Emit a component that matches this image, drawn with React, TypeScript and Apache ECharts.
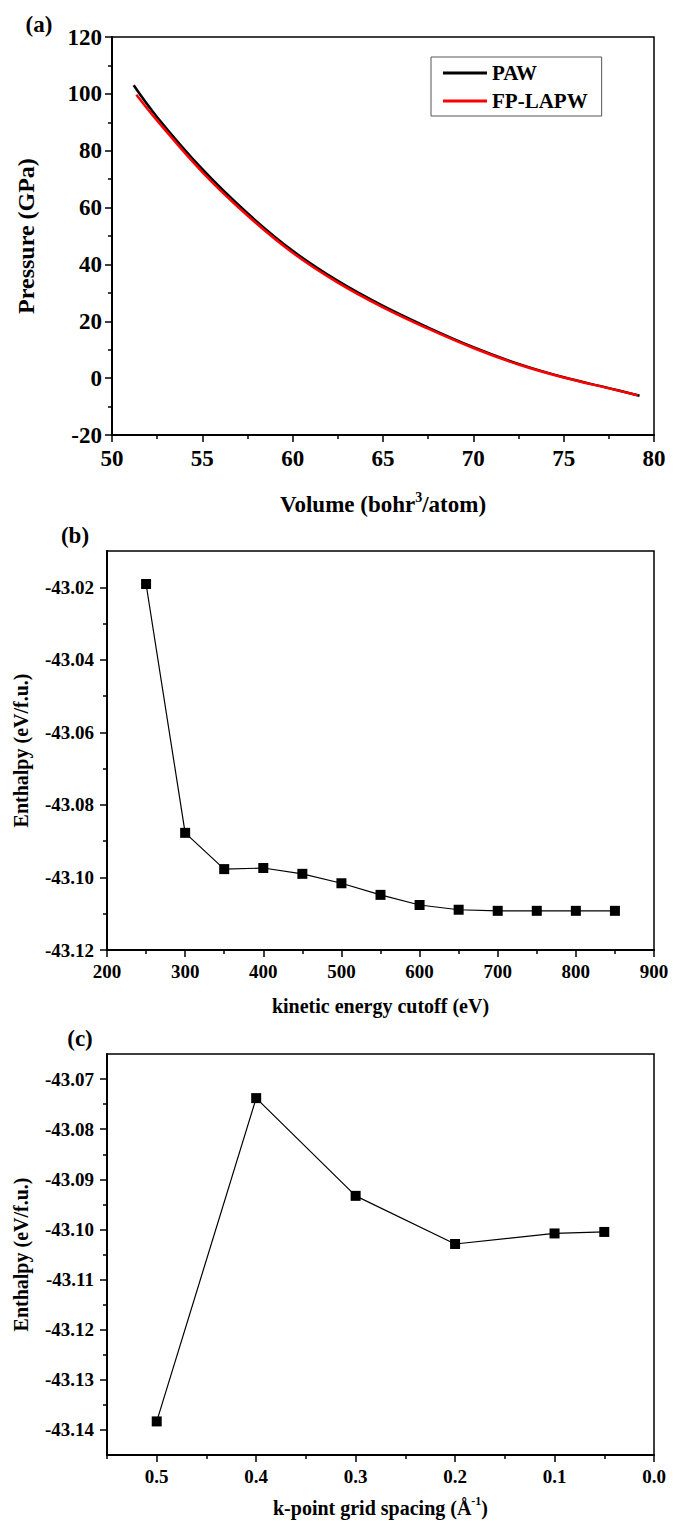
import React, { useEffect, useRef } from 'react';
import * as echarts from 'echarts';

const F = '"Liberation Serif", "Times New Roman", serif';

// Panel (a): pressure vs volume
const volumePAW = [51.2, 52.5, 55, 57.5, 60, 62.5, 65, 67.5, 70, 72.5, 75, 77.5, 79.2];
const pressurePAW = [103, 91.8, 73.5, 58.0, 44.8, 34.2, 25.4, 17.8, 10.9, 5.0, 0.3, -3.5, -6.2];
const volumeLAPW = [51.35, 52.5, 55, 57.5, 60, 62.5, 65, 67.5, 70, 72.5, 75, 77.5, 79.1];
const pressureLAPW = [99.7, 90.6, 72.5, 57.2, 44.1, 33.6, 24.9, 17.4, 10.6, 4.8, 0.2, -3.6, -6.0];

// Panel (b): enthalpy vs kinetic energy cutoff
const cutoff = [250, 300, 350, 400, 450, 500, 550, 600, 650, 700, 750, 800, 850];
const enthalpyCutoff = [-43.0191, -43.0877, -43.0977, -43.0974, -43.099, -43.1016, -43.1048, -43.1076, -43.1089, -43.1092, -43.1092, -43.1092, -43.1092];

// Panel (c): enthalpy vs k-point grid spacing
const kSpacing = [0.5, 0.4, 0.3, 0.2, 0.1, 0.05];
const enthalpyK = [-43.1383, -43.0738, -43.0933, -43.1029, -43.1008, -43.1005];

// Tick labels
const bMajor = [-43.12, -43.1, -43.08, -43.06, -43.04, -43.02];
const bMinor = [-43.11, -43.09, -43.07, -43.05, -43.03];
const cMajorY = [-43.14, -43.13, -43.12, -43.11, -43.1, -43.09, -43.08, -43.07];
const cMinorY = [-43.135, -43.125, -43.115, -43.105, -43.095, -43.085, -43.075];
const cMajorX = [0, 0.1, 0.2, 0.3, 0.4, 0.5];
const cMinorX = [0.05, 0.15, 0.25, 0.35, 0.45, 0.55];

const zip = (xs: number[], ys: number[]) => xs.map((x, i) => [x, ys[i]]);

const lineW = { color: '#000', width: 2 };
const tickW = { color: '#000', width: 1.5 };

function labelStyle(size: number, margin: number, extra: any = {}) {
  return { fontFamily: F, fontWeight: 'bold', fontSize: size, color: '#000', margin, ...extra };
}
function nameStyle(size: number) {
  return {
    fontFamily: F,
    fontWeight: 'bold',
    fontSize: size,
    color: '#000',
    rich: {
      sup: { fontFamily: F, fontWeight: 'bold', fontSize: Math.round(size * 0.6), color: '#000', padding: [0, 0, 14, 0] },
    },
  };
}

export default function App() {
  const ref = useRef<HTMLDivElement>(null);
  useEffect(() => {
    if (!ref.current) return;
    const chart = echarts.init(ref.current, undefined, { renderer: 'svg' });
    const option: any = {
      animation: false,
      backgroundColor: '#fff',
      grid: [
        { left: 112, right: 27, top: 37, height: 398, show: true, borderColor: '#000', borderWidth: 1.5 },
        { left: 107, right: 27, top: 551, height: 399, show: true, borderColor: '#000', borderWidth: 1.5 },
        { left: 107, right: 27, top: 1054, height: 401, show: true, borderColor: '#000', borderWidth: 1.5 },
      ],
      legend: {
        data: [
          { name: 'PAW', icon: 'rect' },
          { name: 'FP-LAPW', icon: 'rect' },
        ],
        orient: 'vertical',
        left: 431,
        top: 57,
        itemWidth: 44,
        itemHeight: 3,
        itemGap: 4,
        padding: [4, 14, 3, 12],
        borderColor: '#555',
        borderWidth: 1,
        selectedMode: false,
        textStyle: { fontFamily: F, fontWeight: 'bold', fontSize: 21, color: '#000', lineHeight: 24 },
      },
      xAxis: [
        {
          gridIndex: 0, type: 'value', min: 50, max: 80, interval: 5, position: 'bottom',
          axisLine: { onZero: false, lineStyle: lineW },
          axisTick: { length: 7, lineStyle: tickW },
          minorTick: { show: true, splitNumber: 2, length: 4, lineStyle: tickW },
          splitLine: { show: false }, minorSplitLine: { show: false },
          axisLabel: labelStyle(23, 12),
          name: 'Volume (bohr{sup|3}/atom)', nameLocation: 'middle', nameGap: 55, nameTextStyle: nameStyle(23),
        },
        {
          gridIndex: 1, type: 'value', min: 200, max: 900, interval: 100, position: 'bottom',
          axisLine: { onZero: false, lineStyle: lineW },
          axisTick: { length: 7, lineStyle: tickW },
          minorTick: { show: true, splitNumber: 2, length: 4, lineStyle: tickW },
          splitLine: { show: false }, minorSplitLine: { show: false },
          axisLabel: labelStyle(19, 12),
          name: 'kinetic energy cutoff (eV)', nameLocation: 'middle', nameGap: 46, nameTextStyle: nameStyle(20),
        },
        {
          gridIndex: 2, type: 'value', min: 0, max: 0.55, inverse: true, position: 'bottom',
          axisLine: { onZero: false, lineStyle: lineW },
          axisTick: { length: 7, lineStyle: tickW, customValues: cMajorX },
          splitLine: { show: false },
          axisLabel: labelStyle(19, 12, { customValues: cMajorX, formatter: (v: number) => v.toFixed(1) }),
          name: 'k-point grid spacing (Å{sup|-1})', nameLocation: 'middle', nameGap: 40, nameTextStyle: nameStyle(20),
        },
        {
          gridIndex: 2, type: 'value', min: 0, max: 0.55, inverse: true, position: 'bottom',
          axisLine: { show: false, onZero: false },
          axisTick: { length: 4, lineStyle: tickW, customValues: cMinorX },
          splitLine: { show: false },
          axisLabel: { show: false },
        },
      ],
      yAxis: [
        {
          gridIndex: 0, type: 'value', min: -20, max: 120, interval: 20, position: 'left',
          axisLine: { onZero: false, lineStyle: lineW },
          axisTick: { length: 7, lineStyle: tickW },
          minorTick: { show: true, splitNumber: 2, length: 4, lineStyle: tickW },
          splitLine: { show: false }, minorSplitLine: { show: false },
          axisLabel: labelStyle(23, 10),
          name: 'Pressure (GPa)', nameLocation: 'middle', nameGap: 74, nameTextStyle: nameStyle(24),
        },
        {
          gridIndex: 1, type: 'value', min: -43.12, max: -43.01, position: 'left',
          axisLine: { onZero: false, lineStyle: lineW },
          axisTick: { length: 7, lineStyle: tickW, customValues: bMajor },
          splitLine: { show: false },
          axisLabel: labelStyle(19, 13, { customValues: bMajor, formatter: (v: number) => v.toFixed(2) }),
          name: 'Enthalpy (eV/f.u.)', nameLocation: 'middle', nameGap: 76, nameTextStyle: nameStyle(20),
        },
        {
          gridIndex: 2, type: 'value', min: -43.145, max: -43.065, position: 'left',
          axisLine: { onZero: false, lineStyle: lineW },
          axisTick: { length: 7, lineStyle: tickW, customValues: cMajorY },
          splitLine: { show: false },
          axisLabel: labelStyle(19, 13, { customValues: cMajorY, formatter: (v: number) => v.toFixed(2) }),
          name: 'Enthalpy (eV/f.u.)', nameLocation: 'middle', nameGap: 76, nameTextStyle: nameStyle(20),
        },
        {
          gridIndex: 1, type: 'value', min: -43.12, max: -43.01, position: 'left',
          axisLine: { show: false, onZero: false },
          axisTick: { length: 4, lineStyle: tickW, customValues: bMinor },
          splitLine: { show: false },
          axisLabel: { show: false },
        },
        {
          gridIndex: 2, type: 'value', min: -43.145, max: -43.065, position: 'left',
          axisLine: { show: false, onZero: false },
          axisTick: { length: 4, lineStyle: tickW, customValues: cMinorY },
          splitLine: { show: false },
          axisLabel: { show: false },
        },
      ],
      graphic: [
        { type: 'text', x: 39, y: 24, style: { text: '(a)', fontFamily: F, fontWeight: 'bold', fontSize: 23, fill: '#000', align: 'center', verticalAlign: 'middle' } },
        { type: 'text', x: 75, y: 535, style: { text: '(b)', fontFamily: F, fontWeight: 'bold', fontSize: 23, fill: '#000', align: 'center', verticalAlign: 'middle' } },
        { type: 'text', x: 80, y: 1038, style: { text: '(c)', fontFamily: F, fontWeight: 'bold', fontSize: 23, fill: '#000', align: 'center', verticalAlign: 'middle' } },
      ],
      series: [
        {
          name: 'PAW', type: 'line', xAxisIndex: 0, yAxisIndex: 0, data: zip(volumePAW, pressurePAW),
          smooth: 0.4, showSymbol: false, lineStyle: { color: '#000', width: 2.5 }, itemStyle: { color: '#000' },
        },
        {
          name: 'FP-LAPW', type: 'line', xAxisIndex: 0, yAxisIndex: 0, data: zip(volumeLAPW, pressureLAPW),
          smooth: 0.4, showSymbol: false, lineStyle: { color: '#ff0000', width: 2.5 }, itemStyle: { color: '#ff0000' },
        },
        {
          name: 'cutoff', type: 'line', xAxisIndex: 1, yAxisIndex: 1, data: zip(cutoff, enthalpyCutoff),
          symbol: 'rect', symbolSize: 10, lineStyle: { color: '#000', width: 1.2 }, itemStyle: { color: '#000' },
        },
        {
          name: 'kpoint', type: 'line', xAxisIndex: 2, yAxisIndex: 2, data: zip(kSpacing, enthalpyK),
          symbol: 'rect', symbolSize: 10, lineStyle: { color: '#000', width: 1.2 }, itemStyle: { color: '#000' },
        },
      ],
    };
    chart.setOption(option);
    return () => chart.dispose();
  }, []);
  return <div ref={ref} style={{ position: 'absolute', left: 0, top: 0, width: 681, height: 1527, background: '#fff' }} />;
}
